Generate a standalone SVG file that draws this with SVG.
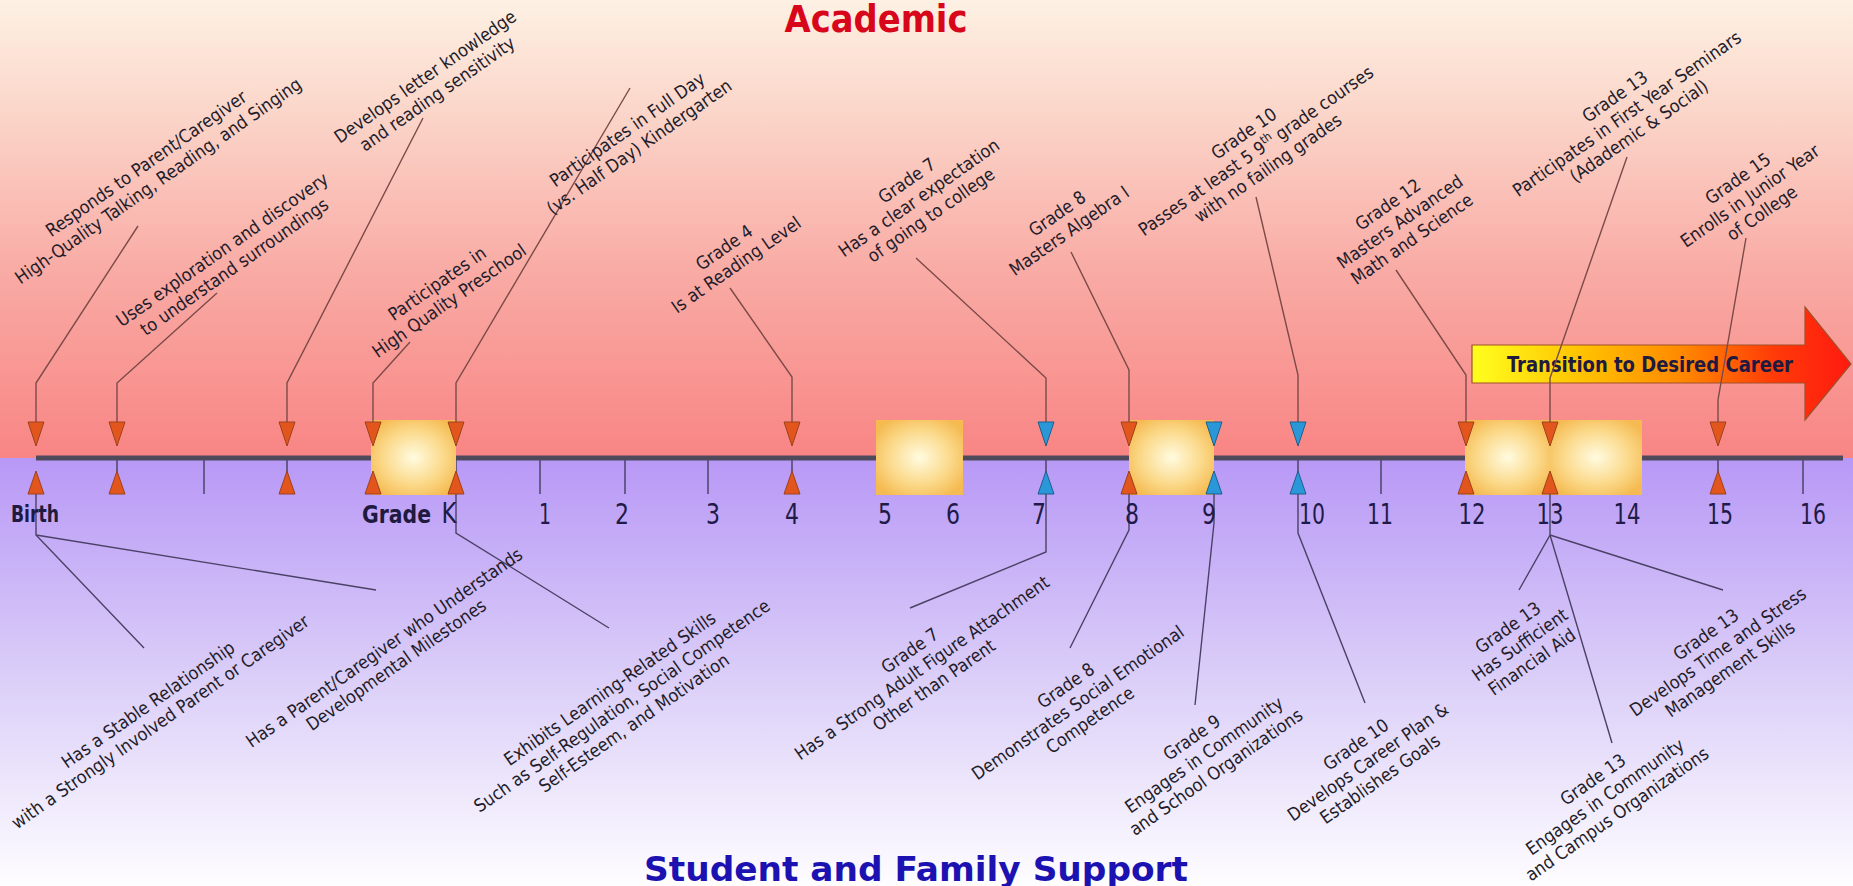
<svg xmlns="http://www.w3.org/2000/svg" width="1853" height="886" viewBox="0 0 1853 886">
<defs>
<linearGradient id="bgTop" x1="0" y1="0" x2="0" y2="1">
<stop offset="0" stop-color="#fdf1e3"/>
<stop offset="0.25" stop-color="#fbd5c9"/>
<stop offset="0.6" stop-color="#f9aaa4"/>
<stop offset="1" stop-color="#f88584"/>
</linearGradient>
<linearGradient id="bgBot" x1="0" y1="0" x2="0" y2="1">
<stop offset="0" stop-color="#b898f6"/>
<stop offset="0.5" stop-color="#dacdf8"/>
<stop offset="1" stop-color="#fefdff"/>
</linearGradient>
<radialGradient id="boxG" cx="0.5" cy="0.5" r="0.6">
<stop offset="0" stop-color="#fffbe0"/>
<stop offset="0.6" stop-color="#fbd98a"/>
<stop offset="1" stop-color="#f5bb52"/>
</radialGradient>
<linearGradient id="arrG" x1="0" y1="0" x2="1" y2="0">
<stop offset="0" stop-color="#ffff1e"/>
<stop offset="0.3" stop-color="#ffc000"/>
<stop offset="0.55" stop-color="#ff8a00"/>
<stop offset="0.8" stop-color="#ff3a08"/>
<stop offset="1" stop-color="#ff1a10"/>
</linearGradient>
<polygon id="dn" points="-8,422 8,422 0,446"/>
<polygon id="up" points="-8,494 8,494 0,471"/>
</defs>
<style>
.lbl{font-family:'DejaVu Sans Condensed','DejaVu Sans',sans-serif;font-size:18px;fill:#231c2a;text-anchor:middle}
.num{font-family:'DejaVu Sans Condensed','DejaVu Sans',sans-serif;font-size:29px;fill:#201a48;text-anchor:middle}
.bold{font-family:'DejaVu Sans Condensed','DejaVu Sans',sans-serif;font-weight:bold;fill:#201a40}
.or{fill:#e2561e;stroke:#9c421a;stroke-width:1}
.bl{fill:#2a98d8;stroke:#1e5f8c;stroke-width:1}
.tick{stroke:#514a72;stroke-width:1.6}
.ltop{fill:none;stroke:#7c4a48;stroke-width:1.4}
.lbot{fill:none;stroke:#4a4266;stroke-width:1.4}
.box{fill:url(#boxG)}
</style>
<rect x="0" y="0" width="1853" height="458" fill="url(#bgTop)"/>
<rect x="0" y="458" width="1853" height="428" fill="url(#bgBot)"/>
<text x="876" y="32" font-family="'DejaVu Sans Condensed','DejaVu Sans',sans-serif" font-weight="bold" font-size="37" fill="#d8061a" text-anchor="middle" textLength="183" lengthAdjust="spacingAndGlyphs">Academic</text>
<text x="916" y="881" font-family="'DejaVu Sans Condensed','DejaVu Sans',sans-serif" font-weight="bold" font-size="33" fill="#1c12b2" text-anchor="middle" textLength="544" lengthAdjust="spacingAndGlyphs">Student and Family Support</text>
<g id="axis">
<line x1="36" y1="458" x2="1843" y2="458" stroke="#4e4a5c" stroke-width="5"/>
<g class="tick">
<line x1="117" y1="460" x2="117" y2="494"/><line x1="204" y1="460" x2="204" y2="494"/><line x1="287" y1="460" x2="287" y2="494"/><line x1="456" y1="460" x2="456" y2="494"/><line x1="540" y1="460" x2="540" y2="494"/><line x1="625" y1="460" x2="625" y2="494"/><line x1="708" y1="460" x2="708" y2="494"/><line x1="792" y1="460" x2="792" y2="494"/><line x1="1046" y1="460" x2="1046" y2="494"/><line x1="1298" y1="460" x2="1298" y2="494"/><line x1="1381" y1="460" x2="1381" y2="494"/><line x1="1718" y1="460" x2="1718" y2="494"/><line x1="1803" y1="460" x2="1803" y2="494"/>
</g>
</g>
<g id="boxes">
<rect class="box" x="371" y="420" width="85" height="75"/>
<rect class="box" x="876" y="420" width="87" height="75"/>
<rect class="box" x="1129" y="420" width="85" height="75"/>
<rect class="box" x="1465" y="420" width="85" height="75"/>
<rect class="box" x="1550" y="420" width="92" height="75"/>
</g>
<g id="transition">
<polygon points="1472,345 1805,345 1805,307 1851,364 1805,420 1805,383 1472,383" fill="url(#arrG)" stroke="#a0502a" stroke-width="1.2"/>
<text x="1650" y="372" class="bold" font-size="22" fill="#3a1a0a" text-anchor="middle" textLength="286" lengthAdjust="spacingAndGlyphs">Transition to Desired Career</text>
</g>
<g id="connectors">
<polyline class="ltop" points="138,226 36,383 36,422"/>
<polyline class="ltop" points="217,293 117,383 117,422"/>
<polyline class="ltop" points="423,118 287,383 287,422"/>
<polyline class="ltop" points="410,342 373,383 373,422"/>
<polyline class="ltop" points="630,88 456,383 456,422"/>
<polyline class="ltop" points="730,288 792,377 792,422"/>
<polyline class="ltop" points="916,258 1046,378 1046,422"/>
<polyline class="ltop" points="1071,252 1129,370 1129,422"/>
<polyline class="ltop" points="1256,197 1298,375 1298,422"/>
<polyline class="ltop" points="1396,270 1466,375 1466,422"/>
<polyline class="ltop" points="1627,157 1550,378 1550,422"/>
<polyline class="ltop" points="1746,238 1718,400 1718,422"/>
<polyline class="lbot" points="36,494 36,535 144,648"/>
<polyline class="lbot" points="36,535 376,590"/>
<polyline class="lbot" points="456,494 456,533 609,628"/>
<polyline class="lbot" points="1046,494 1046,552 910,608"/>
<polyline class="lbot" points="1129,494 1129,530 1070,648"/>
<polyline class="lbot" points="1214,494 1214,523 1195,705"/>
<polyline class="lbot" points="1298,494 1298,533 1365,703"/>
<polyline class="lbot" points="1550,494 1550,535 1519,590"/>
<polyline class="lbot" points="1550,535 1612,743"/>
<polyline class="lbot" points="1550,535 1723,590"/>
</g>
<g id="markers">
<use href="#dn" class="or" x="36"/><use href="#up" class="or" x="36"/>
<use href="#dn" class="or" x="117"/><use href="#up" class="or" x="117"/>
<use href="#dn" class="or" x="287"/><use href="#up" class="or" x="287"/>
<use href="#dn" class="or" x="373"/><use href="#up" class="or" x="373"/>
<use href="#dn" class="or" x="456"/><use href="#up" class="or" x="456"/>
<use href="#dn" class="or" x="792"/><use href="#up" class="or" x="792"/>
<use href="#dn" class="bl" x="1046"/><use href="#up" class="bl" x="1046"/>
<use href="#dn" class="or" x="1129"/><use href="#up" class="or" x="1129"/>
<use href="#dn" class="bl" x="1214"/><use href="#up" class="bl" x="1214"/>
<use href="#dn" class="bl" x="1298"/><use href="#up" class="bl" x="1298"/>
<use href="#dn" class="or" x="1466"/><use href="#up" class="or" x="1466"/>
<use href="#dn" class="or" x="1550"/><use href="#up" class="or" x="1550"/>
<use href="#dn" class="or" x="1718"/><use href="#up" class="or" x="1718"/>
</g>
<g id="axis-labels">
<text x="11" y="522" class="bold" font-size="23" textLength="48" lengthAdjust="spacingAndGlyphs">Birth</text>
<text x="362" y="523" class="bold" font-size="25" textLength="69" lengthAdjust="spacingAndGlyphs">Grade</text>
<text x="449" y="523" class="num" text-anchor="start" textLength="15" lengthAdjust="spacingAndGlyphs">K</text>
<text x="545" y="524" class="num" textLength="12" lengthAdjust="spacingAndGlyphs">1</text>
<text x="622" y="524" class="num" textLength="14" lengthAdjust="spacingAndGlyphs">2</text>
<text x="713" y="524" class="num" textLength="14" lengthAdjust="spacingAndGlyphs">3</text>
<text x="792" y="524" class="num" textLength="14" lengthAdjust="spacingAndGlyphs">4</text>
<text x="885" y="524" class="num" textLength="14" lengthAdjust="spacingAndGlyphs">5</text>
<text x="953" y="524" class="num" textLength="14" lengthAdjust="spacingAndGlyphs">6</text>
<text x="1039" y="524" class="num" textLength="14" lengthAdjust="spacingAndGlyphs">7</text>
<text x="1132" y="524" class="num" textLength="14" lengthAdjust="spacingAndGlyphs">8</text>
<text x="1209" y="524" class="num" textLength="14" lengthAdjust="spacingAndGlyphs">9</text>
<text x="1312" y="524" class="num" textLength="26" lengthAdjust="spacingAndGlyphs">10</text>
<text x="1380" y="524" class="num" textLength="26" lengthAdjust="spacingAndGlyphs">11</text>
<text x="1472" y="524" class="num" textLength="27" lengthAdjust="spacingAndGlyphs">12</text>
<text x="1550" y="524" class="num" textLength="27" lengthAdjust="spacingAndGlyphs">13</text>
<text x="1627" y="524" class="num" textLength="27" lengthAdjust="spacingAndGlyphs">14</text>
<text x="1720" y="524" class="num" textLength="26" lengthAdjust="spacingAndGlyphs">15</text>
<text x="1813" y="524" class="num" textLength="26" lengthAdjust="spacingAndGlyphs">16</text>
</g>
<g id="n-a1" transform="translate(152,172) rotate(-35)"><text class="lbl"><tspan x="0" y="-4">Responds to Parent/Caregiver</tspan><tspan x="0" y="17">High-Quality Talking, Reading, and Singing</tspan></text></g>
<g id="n-a2" transform="translate(228,258) rotate(-35)"><text class="lbl"><tspan x="0" y="-4">Uses exploration and discovery</tspan><tspan x="0" y="17">to understand surroundings</tspan></text></g>
<g id="n-a3" transform="translate(431,85) rotate(-35)"><text class="lbl"><tspan x="0" y="-4">Develops letter knowledge</tspan><tspan x="0" y="17">and reading sensitivity</tspan></text></g>
<g id="n-a4" transform="translate(443,292) rotate(-35)"><text class="lbl"><tspan x="0" y="-4">Participates in</tspan><tspan x="0" y="17">High Quality Preschool</tspan></text></g>
<g id="n-a5" transform="translate(633,138) rotate(-35)"><text class="lbl"><tspan x="0" y="-4">Participates in Full Day</tspan><tspan x="0" y="17">(vs. Half Day) Kindergarten</tspan></text></g>
<g id="n-a6" transform="translate(730,256) rotate(-35)"><text class="lbl"><tspan x="0" y="-4">Grade 4</tspan><tspan x="0" y="17">Is at Reading Level</tspan></text></g>
<g id="n-a7" transform="translate(919,198) rotate(-35)"><text class="lbl"><tspan x="0" y="-15">Grade 7</tspan><tspan x="0" y="6">Has a clear expectation</tspan><tspan x="0" y="27">of going to college</tspan></text></g>
<g id="n-a8" transform="translate(1063,222) rotate(-35)"><text class="lbl"><tspan x="0" y="-4">Grade 8</tspan><tspan x="0" y="17">Masters Algebra I</tspan></text></g>
<g id="n-a9" transform="translate(1256,151) rotate(-35)"><text class="lbl"><tspan x="0" y="-15">Grade 10</tspan><tspan x="0" y="6">Passes at least 5 9<tspan font-size="12" dy="-7">th</tspan><tspan dy="7"> grade  courses</tspan></tspan><tspan x="0" y="27">with no failing grades</tspan></text></g>
<g id="n-a10" transform="translate(1400,222) rotate(-35)"><text class="lbl"><tspan x="0" y="-15">Grade 12</tspan><tspan x="0" y="6">Masters Advanced</tspan><tspan x="0" y="27">Math and Science</tspan></text></g>
<g id="n-a11" transform="translate(1627,114) rotate(-35)"><text class="lbl"><tspan x="0" y="-15">Grade 13</tspan><tspan x="0" y="6">Participates in First Year Seminars</tspan><tspan x="0" y="27">(Adademic &amp; Social)</tspan></text></g>
<g id="n-a12" transform="translate(1750,196) rotate(-35)"><text class="lbl"><tspan x="0" y="-15">Grade 15</tspan><tspan x="0" y="6">Enrolls in Junior Year</tspan><tspan x="0" y="27">of College</tspan></text></g>
<g id="n-b1" transform="translate(154,713) rotate(-35)"><text class="lbl"><tspan x="0" y="-4">Has a Stable Relationship</tspan><tspan x="0" y="17">with a Strongly Involved Parent or Caregiver</tspan></text></g>
<g id="n-b2" transform="translate(390,656) rotate(-35)"><text class="lbl"><tspan x="0" y="-4">Has a Parent/Caregiver who Understands</tspan><tspan x="0" y="17">Developmental Milestones</tspan></text></g>
<g id="n-b3" transform="translate(622,706) rotate(-35)"><text class="lbl"><tspan x="0" y="-15">Exhibits Learning-Related Skills</tspan><tspan x="0" y="6">Such as Self-Regulation, Social Competence</tspan><tspan x="0" y="27">Self-Esteem, and Motivation</tspan></text></g>
<g id="n-b4" transform="translate(922,668) rotate(-35)"><text class="lbl"><tspan x="0" y="-15">Grade 7</tspan><tspan x="0" y="6">Has a Strong Adult Figure Attachment</tspan><tspan x="0" y="27">Other than Parent</tspan></text></g>
<g id="n-b5" transform="translate(1078,703) rotate(-35)"><text class="lbl"><tspan x="0" y="-15">Grade 8</tspan><tspan x="0" y="6">Demonstrates Social Emotional</tspan><tspan x="0" y="27">Competence</tspan></text></g>
<g id="n-b6" transform="translate(1204,755) rotate(-35)"><text class="lbl"><tspan x="0" y="-15">Grade 9</tspan><tspan x="0" y="6">Engages in Community</tspan><tspan x="0" y="27">and School Organizations</tspan></text></g>
<g id="n-b7" transform="translate(1368,762) rotate(-35)"><text class="lbl"><tspan x="0" y="-15">Grade 10</tspan><tspan x="0" y="6">Develops Career Plan &amp;</tspan><tspan x="0" y="27">Establishes Goals</tspan></text></g>
<g id="n-b8" transform="translate(1520,645) rotate(-35)"><text class="lbl"><tspan x="0" y="-15">Grade 13</tspan><tspan x="0" y="6">Has Sufficient</tspan><tspan x="0" y="27">Financial Aid</tspan></text></g>
<g id="n-b9" transform="translate(1718,652) rotate(-35)"><text class="lbl"><tspan x="0" y="-15">Grade 13</tspan><tspan x="0" y="6">Develops Time and Stress</tspan><tspan x="0" y="27">Management Skills</tspan></text></g>
<g id="n-b10" transform="translate(1605,797) rotate(-35)"><text class="lbl"><tspan x="0" y="-15">Grade 13</tspan><tspan x="0" y="6">Engages in Community</tspan><tspan x="0" y="27">and Campus Organizations</tspan></text></g>
</svg>
